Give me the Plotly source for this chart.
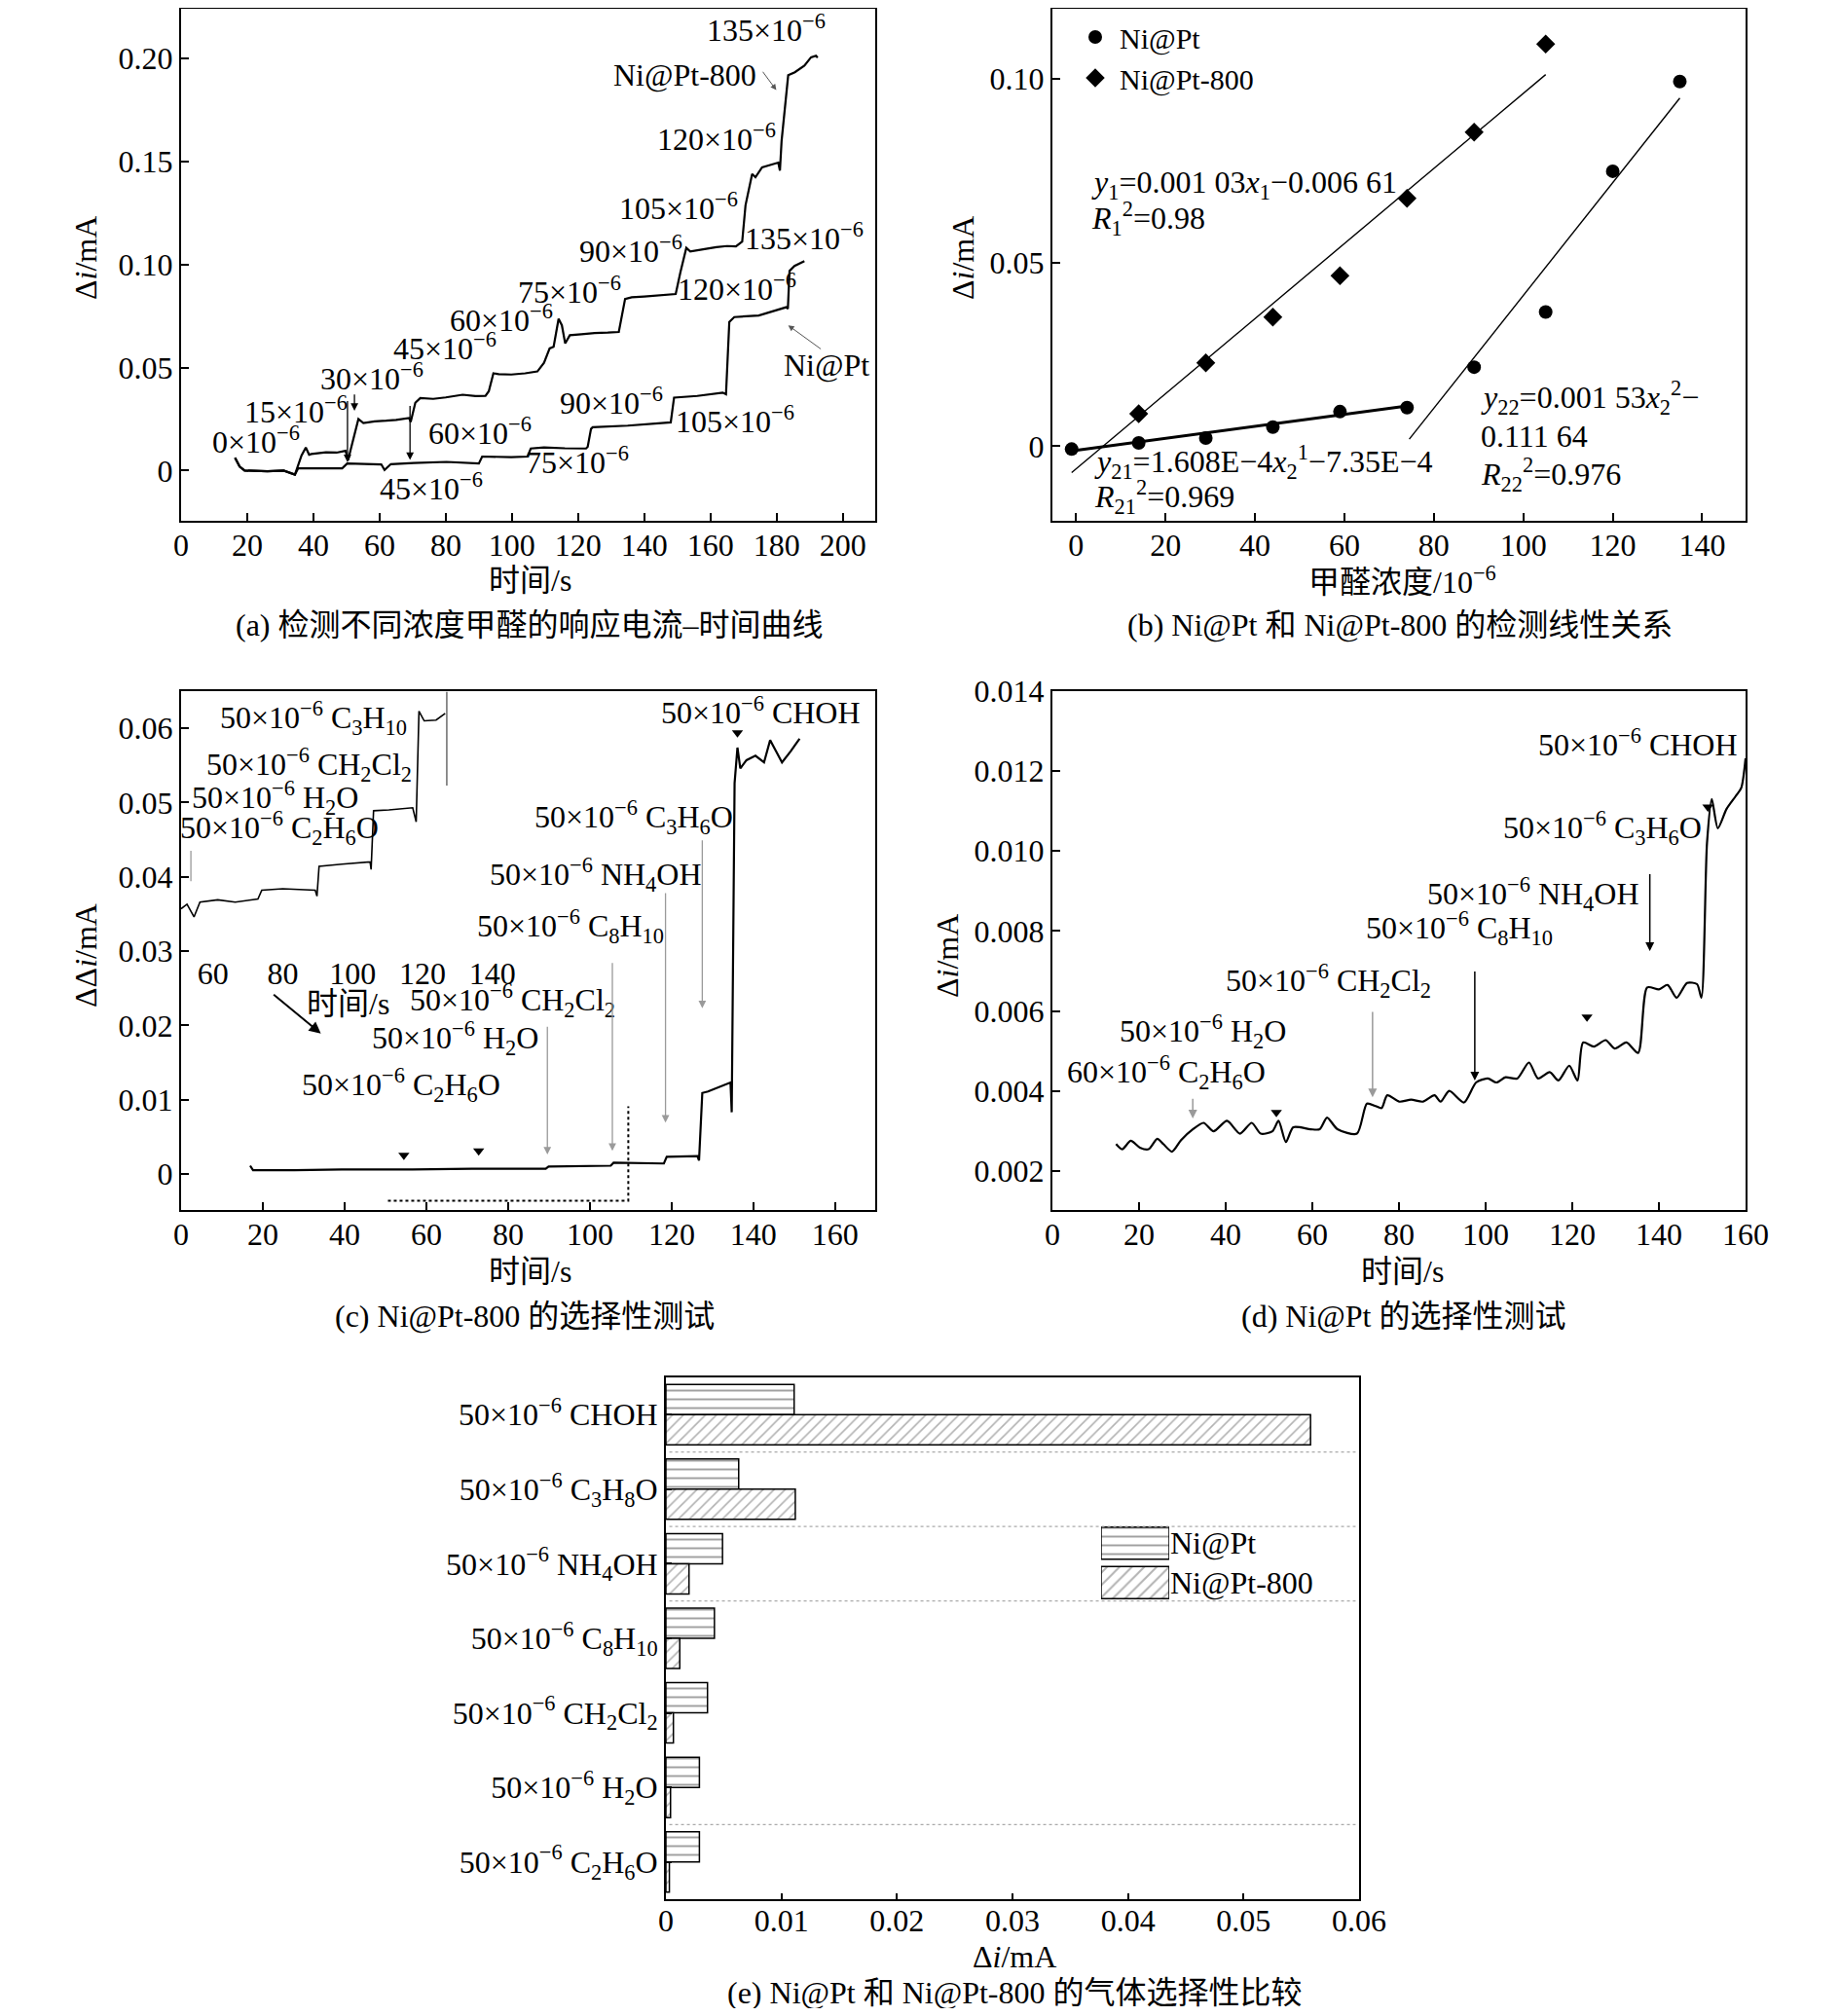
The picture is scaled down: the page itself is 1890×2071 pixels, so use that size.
import plotly.graph_objects as go

W, H = 1890, 2071
OFF = 8  # default body margin of the html page
FW, FH = W - 2 * OFF, H - 2 * OFF
SERIF = "Liberation Serif, 'Noto Sans CJK SC', serif"
FS = 32
SUP = "10<sup>−6</sup>"


def px(x):
    return min(1.0, max(0.0, (x - OFF) / FW))


def py(y):
    return min(1.0, max(0.0, 1 - (y - OFF) / FH))


# ---------------- (a) response current vs time ----------------
a800_t = [16.3, 17.7, 19.2, 23, 26.1, 31, 34.4, 36.4, 37.7, 38.7, 39.4, 43.8, 47, 49.7, 50.5, 51.2,
          53.6, 55.1, 58.5, 62, 65, 68.9, 69.4, 70.8, 72.3, 76.2, 80, 85.1, 89, 92, 93, 94.4, 96,
          99.8, 104, 107.7, 109.7, 111.4, 112.6, 114.1, 115.1, 116.1, 117.5, 121, 125, 129, 132.3,
          134.2, 136.2, 140, 145, 149.5, 150.9, 152.7, 153.9, 158, 161.8, 165, 167.7, 169.6, 170.6,
          172.6, 173.6, 175.6, 178, 180.5, 181, 181.5, 183.5, 185.5, 188.4, 190.4, 191.9, 192.4]
a800_v = [0.0062, 0.0019, 0.0, -0.0003, -0.0004, 0.0, -0.002, 0.0073, 0.0112, 0.0077, 0.008, 0.0089,
          0.0087, 0.0096, 0.005, 0.0098, 0.025, 0.0231, 0.0239, 0.0242, 0.0246, 0.0255, 0.0236,
          0.0329, 0.0352, 0.0348, 0.0355, 0.0368, 0.0362, 0.0363, 0.0385, 0.0472, 0.0468, 0.0466,
          0.0472, 0.0481, 0.0523, 0.0593, 0.0601, 0.0737, 0.0705, 0.0617, 0.0657, 0.0662, 0.0668,
          0.067, 0.0673, 0.0833, 0.0841, 0.0845, 0.085, 0.0857, 0.0961, 0.1081, 0.1064, 0.1075,
          0.1085, 0.109, 0.1088, 0.1112, 0.1288, 0.144, 0.1424, 0.1472, 0.1485, 0.1495, 0.1456,
          0.16, 0.1919, 0.1934, 0.1966, 0.2006, 0.2014, 0.2005]
apt_t = [16.3, 17.7, 19.2, 23, 26.1, 31, 34.4, 35.4, 36.9, 42.8, 48.7, 50.2, 56.6, 60.5, 61.5, 63.4,
         70.3, 80.2, 90, 91, 99.8, 104.7, 105.7, 109.7, 116, 122.4, 122.9, 123.9, 124.4, 135, 148,
         149, 156, 163.7, 164.7, 165.7, 167.2, 174.6, 182.9, 183.4, 183.9, 185.4, 188.4]
apt_v = [0.0062, 0.0019, 0.0, -0.0003, -0.0004, 0.0, -0.002, 0.0011, 0.0011, 0.001, 0.0011, 0.0034,
         0.0031, 0.003, 0.0003, 0.0031, 0.0037, 0.0042, 0.0034, 0.0068, 0.0065, 0.0068, 0.0107,
         0.0112, 0.0108, 0.0107, 0.0115, 0.0202, 0.021, 0.0218, 0.0234, 0.0354, 0.0362, 0.0378,
         0.037, 0.0721, 0.0745, 0.0753, 0.0793, 0.0785, 0.0969, 0.0993, 0.1017]
a_xticks = [0, 20, 40, 60, 80, 100, 120, 140, 160, 180, 200]
a_yticks = [0, 0.05, 0.10, 0.15, 0.20]
a_ytext = ["0", "0.05", "0.10", "0.15", "0.20"]
a_labels = ["135×" + SUP, "Ni@Pt-800", "120×" + SUP, "105×" + SUP, "135×" + SUP, "90×" + SUP,
            "120×" + SUP, "75×" + SUP, "60×" + SUP, "45×" + SUP, "Ni@Pt", "30×" + SUP, "15×" + SUP,
            "0×" + SUP, "60×" + SUP, "90×" + SUP, "105×" + SUP, "75×" + SUP, "45×" + SUP]
a_lab_t = [176.8, 152.2, 161.7, 150.4, 188.4, 135.8, 167.9, 117.5, 96.8, 79.7, 195, 57.8, 34.6,
           22.6, 90.4, 130, 167.4, 119.8, 75.6]
a_lab_v = [0.2148, 0.1921, 0.1616, 0.1281, 0.1134, 0.1075, 0.0888, 0.0878, 0.074, 0.0602, 0.0514,
           0.0455, 0.0297, 0.015, 0.0189, 0.0337, 0.0248, 0.0051, -0.0077]
a_arrow_t = [50.3, 52.4, 69.2]
a_arrow_top = [0.0345, 0.0376, 0.0321]
a_arrow_tip = [0.004, 0.029, 0.0051]

# ---------------- (b) linear relation ----------------
b_pt_c = [-1, 14, 29, 44, 59, 74, 89, 105, 120, 135]
b_pt_v = [-0.0008, 0.0009, 0.0022, 0.0052, 0.0094, 0.0105, 0.0215, 0.0365, 0.0748, 0.0992]
b_800_c = [14, 29, 44, 59, 74, 89, 105]
b_800_v = [0.0088, 0.0227, 0.0351, 0.0464, 0.0674, 0.0854, 0.1094]
fit1_c, fit1_v = [-1, 105], [-0.0072, 0.1011]
fit21_c, fit21_v = [-1, 74.5], [-0.0013, 0.011]
fit22_c, fit22_v = [74.5, 135], [0.0019, 0.0947]
b_xticks = [0, 20, 40, 60, 80, 100, 120, 140]
b_yticks = [0, 0.05, 0.10]
b_ytext = ["0", "0.05", "0.10"]
b_eqs = ["<i>y</i><sub>1</sub>=0.001 03<i>x</i><sub>1</sub>−0.006 61",
         "<i>R</i><sub>1</sub><sup>2</sup>=0.98",
         "<i>y</i><sub>21</sub>=1.608E−4<i>x</i><sub>2</sub><sup>1</sup>−7.35E−4",
         "<i>R</i><sub>21</sub><sup>2</sup>=0.969",
         "<i>y</i><sub>22</sub>=0.001 53<i>x</i><sub>2</sub><sup>2</sup>−",
         "0.111 64",
         "<i>R</i><sub>22</sub><sup>2</sup>=0.976"]
b_eq_c = [3.0, 3.0, 3.7, 3.7, 90.1, 90.1, 90.1]
b_eq_v = [0.0713, 0.0619, -0.0044, -0.0138, 0.0133, 0.0028, -0.0077]

# ---------------- (c) Ni@Pt-800 selectivity ----------------
c_t = [16.9, 17.6, 27.7, 39.3, 56.6, 71.1, 89.2, 89.9, 105.1, 105.8, 118.1, 118.8, 126.3, 126.7,
       127.5, 128.9, 134.4, 134.7, 135.4, 136.1, 136.8, 138.3, 140.5, 142.6, 144.1, 145.1, 147,
       149.1, 151.3]
c_v = [0.0011, 0.0005, 0.0005, 0.0006, 0.0006, 0.0007, 0.0007, 0.001, 0.0011, 0.0015, 0.0014,
       0.0023, 0.0024, 0.0018, 0.0109, 0.0111, 0.0123, 0.0083, 0.0526, 0.0574, 0.0546, 0.0557,
       0.0563, 0.0554, 0.0584, 0.0574, 0.0554, 0.0569, 0.0586]
# inset (zoomed) curve, inset time axis
ci_t = [50.9, 52.6, 54.6, 56.3, 61.4, 66.4, 72.9, 74.0, 80, 89.3, 89.8, 90.4, 96.9, 105, 105.3,
        106, 110.4, 117.2, 118.2, 119, 120.5, 123.9, 126.5]
ci_v = [0.0357, 0.0363, 0.0346, 0.0366, 0.0369, 0.0366, 0.037, 0.0382, 0.0384, 0.0382, 0.0374,
        0.0414, 0.0417, 0.042, 0.041, 0.0489, 0.049, 0.0493, 0.0474, 0.0623, 0.061, 0.0611, 0.062]
ci_xticks = [60, 80, 100, 120, 140]
c_dot_t = [50.6, 109.4, 109.4]
c_dot_v = [-0.0036, -0.0036, 0.0091]
c_xticks = [0, 20, 40, 60, 80, 100, 120, 140, 160]
c_yticks = [0, 0.01, 0.02, 0.03, 0.04, 0.05, 0.06]
c_ytext = ["0", "0.01", "0.02", "0.03", "0.04", "0.05", "0.06"]
c_arrow_t = [89.6, 105.5, 118.5, 127.5]
c_arrow_top = [0.020, 0.0286, 0.038, 0.0451]
c_arrow_tip = [0.0026, 0.0031, 0.0069, 0.0223]
c_tri_t = [54.5, 72.8, 136.1]
c_tri_v = [0.0025, 0.0031, 0.0594]
c_labels = ["50×" + SUP + " C<sub>3</sub>H<sub>10</sub>", "50×" + SUP + " CH<sub>2</sub>Cl<sub>2</sub>",
            "50×" + SUP + " H<sub>2</sub>O", "50×" + SUP + " C<sub>2</sub>H<sub>6</sub>O",
            "50×" + SUP + " CHOH", "50×" + SUP + " C<sub>3</sub>H<sub>6</sub>O",
            "50×" + SUP + " NH<sub>4</sub>OH", "50×" + SUP + " C<sub>8</sub>H<sub>10</sub>",
            "50×" + SUP + " CH<sub>2</sub>Cl<sub>2</sub>", "50×" + SUP + " H<sub>2</sub>O",
            "50×" + SUP + " C<sub>2</sub>H<sub>6</sub>O", "时间/s"]
c_lab_t = [32.4, 31.4, 23.0, 24.1, 141.9, 110.8, 101.4, 95.2, 81.2, 67.0, 53.8, 40.8]
c_lab_v = [0.0614, 0.0551, 0.0506, 0.0466, 0.0624, 0.048, 0.0403, 0.0334, 0.0234, 0.0183, 0.012,
           0.0229]

# ---------------- (d) Ni@Pt selectivity ----------------
d_t = [14.7, 16.1, 18.1, 20.2, 22.2, 24.2, 25.6, 27.6, 29.7, 32.4, 34.9, 37.2, 40.3, 43.3, 46,
       48.1, 50.8, 52.2, 53.9, 55.6, 59.6, 61.7, 63.4, 65.8, 70.3, 72.6, 74.6, 76, 77.3, 80.1,
       82.8, 85.5, 88.2, 89.6, 91.6, 95, 97.8, 100.5, 102.5, 104.6, 107.3, 110, 112.1, 114.8,
       116.8, 119.3, 121.2, 122.5, 125, 127.7, 129.8, 132.5, 135.2, 137.3, 140, 142, 144.1, 146.5,
       148.8, 149.8, 151.1, 152.2, 153.6, 155.6, 157.7, 159, 160]
d_v = [0.00267, 0.00254, 0.00275, 0.00258, 0.00254, 0.0028, 0.00267, 0.00248, 0.00277, 0.00304,
       0.0032, 0.00299, 0.00325, 0.00293, 0.0032, 0.00293, 0.00299, 0.00325, 0.00272, 0.00309,
       0.00304, 0.00304, 0.00333, 0.00304, 0.00293, 0.00368, 0.00362, 0.00357, 0.00389, 0.00373,
       0.00378, 0.00373, 0.00389, 0.00373, 0.004, 0.00371, 0.00421, 0.00431, 0.00421, 0.00434,
       0.00431, 0.00471, 0.00431, 0.00447, 0.00426, 0.00463, 0.00426, 0.00521, 0.00511, 0.00527,
       0.00506, 0.00521, 0.00495, 0.00659, 0.00654, 0.00665, 0.00633, 0.0067, 0.00667, 0.00633,
       0.0102, 0.0113, 0.01057, 0.01105, 0.01137, 0.01158, 0.01232]
d_xticks = [0, 20, 40, 60, 80, 100, 120, 140, 160]
d_yticks = [0.002, 0.004, 0.006, 0.008, 0.010, 0.012, 0.014]
d_ytext = ["0.002", "0.004", "0.006", "0.008", "0.010", "0.012", "0.014"]
d_arrow_t = [32.4, 73.9, 97.5, 137.9]
d_arrow_top = [0.00384, 0.00601, 0.00702, 0.00946]
d_arrow_tip = [0.00331, 0.00384, 0.00426, 0.0075]
d_arrow_col = ["#9a9a9a", "#9a9a9a", "black", "black"]
d_tri_t = [51.7, 123.4, 151.3]
d_tri_v = [0.00346, 0.00585, 0.0111]
d_labels = ["50×" + SUP + " CHOH", "50×" + SUP + " C<sub>3</sub>H<sub>6</sub>O",
            "50×" + SUP + " NH<sub>4</sub>OH", "50×" + SUP + " C<sub>8</sub>H<sub>10</sub>",
            "50×" + SUP + " CH<sub>2</sub>Cl<sub>2</sub>", "50×" + SUP + " H<sub>2</sub>O",
            "60×" + SUP + " C<sub>2</sub>H<sub>6</sub>O"]
d_lab_t = [135.2, 127.0, 111.0, 94.0, 63.7, 34.7, 26.4]
d_lab_v = [0.0127, 0.01057, 0.00893, 0.00808, 0.00675, 0.00548, 0.00447]

# ---------------- (e) gas selectivity comparison ----------------
e_gases = ["50×" + SUP + " CHOH", "50×" + SUP + " C<sub>3</sub>H<sub>8</sub>O",
           "50×" + SUP + " NH<sub>4</sub>OH", "50×" + SUP + " C<sub>8</sub>H<sub>10</sub>",
           "50×" + SUP + " CH<sub>2</sub>Cl<sub>2</sub>", "50×" + SUP + " H<sub>2</sub>O",
           "50×" + SUP + " C<sub>2</sub>H<sub>6</sub>O"]
e_pt = [0.0111, 0.0063, 0.0049, 0.0042, 0.0036, 0.0029, 0.0029]
e_800 = [0.0558, 0.0112, 0.0020, 0.0012, 0.00065, 0.0004, 0.0003]
e_xticks = [0, 0.01, 0.02, 0.03, 0.04, 0.05, 0.06]
e_xtext = ["0", "0.01", "0.02", "0.03", "0.04", "0.05", "0.06"]
e_sep = [0.5, 1.5, 2.5, 5.5]
e_series = ["Ni@Pt", "Ni@Pt-800"]
e_swatch = [1, 1]

PAT_PT = dict(shape="-", fgcolor="#444", bgcolor="white", size=9, solidity=0.22)
PAT_800 = dict(shape="/", fgcolor="#666", bgcolor="white", size=8, solidity=0.2)

fig = go.Figure()
line = dict(color="black", width=2.2)

# (a)
fig.add_trace(go.Scatter(x=a800_t, y=a800_v, mode="lines", line=line, xaxis="x", yaxis="y", showlegend=False))
fig.add_trace(go.Scatter(x=apt_t, y=apt_v, mode="lines", line=line, xaxis="x", yaxis="y", showlegend=False))

# (b)
for fc, fv, wd in [(fit1_c, fit1_v, 1.4), (fit21_c, fit21_v, 3), (fit22_c, fit22_v, 1.4)]:
    fig.add_trace(go.Scatter(x=fc, y=fv, mode="lines", line=dict(color="black", width=wd),
                             xaxis="x2", yaxis="y2", showlegend=False))
fig.add_trace(go.Scatter(x=b_pt_c, y=b_pt_v, mode="markers", name="Ni@Pt",
                         marker=dict(symbol="circle", size=14, color="black"),
                         xaxis="x2", yaxis="y2"))
fig.add_trace(go.Scatter(x=b_800_c, y=b_800_v, mode="markers", name="Ni@Pt-800",
                         marker=dict(symbol="diamond", size=15, color="black"),
                         xaxis="x2", yaxis="y2"))

# (c)
fig.add_trace(go.Scatter(x=c_t, y=c_v, mode="lines", line=line, xaxis="x3", yaxis="y3", showlegend=False))
fig.add_trace(go.Scatter(x=ci_t, y=ci_v, mode="lines", line=dict(color="black", width=1.6),
                         xaxis="x6", yaxis="y3", showlegend=False))
fig.add_trace(go.Scatter(x=c_dot_t, y=c_dot_v, mode="lines", line=dict(color="black", width=2, dash="dot"),
                         xaxis="x3", yaxis="y3", showlegend=False))
fig.add_trace(go.Scatter(x=c_tri_t, y=c_tri_v, mode="markers",
                         marker=dict(symbol="triangle-down", size=10, color="black"),
                         xaxis="x3", yaxis="y3", showlegend=False))

# (d)
fig.add_trace(go.Scatter(x=d_t, y=d_v, mode="lines",
                         line=dict(color="black", width=2.2, shape="spline", smoothing=0.7),
                         xaxis="x4", yaxis="y4", showlegend=False))
fig.add_trace(go.Scatter(x=d_tri_t, y=d_tri_v, mode="markers",
                         marker=dict(symbol="triangle-down", size=10, color="black"),
                         xaxis="x4", yaxis="y4", showlegend=False))

# (e)
fig.add_trace(go.Bar(y=e_gases, x=e_pt, orientation="h", name="Ni@Pt", xaxis="x5", yaxis="y5",
                     showlegend=False,
                     marker=dict(color="white", line=dict(color="black", width=1.5), pattern=PAT_PT)))
fig.add_trace(go.Bar(y=e_gases, x=e_800, orientation="h", name="Ni@Pt-800", xaxis="x5", yaxis="y5",
                     showlegend=False,
                     marker=dict(color="white", line=dict(color="black", width=1.5), pattern=PAT_800)))
# legend of (e): large hatched swatches on a small hidden axis
fig.add_trace(go.Bar(y=e_series, x=e_swatch, orientation="h", xaxis="x7", yaxis="y7", showlegend=False,
                     hoverinfo="skip",
                     marker=dict(color="white", line=dict(color="black", width=1.5),
                                 pattern=dict(shape=["-", "/"], fgcolor=["#444", "#666"], bgcolor="white",
                                              size=9, solidity=0.22))))

tick_font = dict(family=SERIF, size=FS, color="black")


def axis(dom, rng, **kw):
    d = dict(domain=dom, range=rng, showline=True, linecolor="black", linewidth=2, mirror=True,
             ticks="inside", ticklen=8, tickwidth=1.5, tickcolor="black", showgrid=False,
             zeroline=False, tickfont=tick_font)
    d.update(kw)
    return d


ax_a = [px(186), px(899)]
ax_b = [px(1081), px(1793)]
ay_ab = [py(535), py(9)]
ay_cd = [py(1243), py(710)]

fig.update_layout(
    width=FW, height=FH, margin=dict(l=0, r=0, t=0, b=0, autoexpand=False),
    paper_bgcolor="white", plot_bgcolor="white",
    font=dict(family=SERIF, size=FS, color="black"),
    barmode="group", bargap=0.19, bargroupgap=0,
    xaxis=axis(ax_a, [0, 209.8], anchor="y", tickvals=a_xticks, ticklabelstandoff=-4),
    yaxis=axis(ay_ab, [-0.0244, 0.2242], anchor="x", tickvals=a_yticks, ticktext=a_ytext),
    xaxis2=axis(ax_b, [-5.3, 149.7], anchor="y2", tickvals=b_xticks, ticklabelstandoff=-4),
    yaxis2=axis(ay_ab, [-0.0203, 0.119], anchor="x2", tickvals=b_yticks, ticktext=b_ytext),
    xaxis3=axis(ax_a, [0, 169.8], anchor="y3", tickvals=c_xticks, ticklabelstandoff=-4),
    yaxis3=axis(ay_cd, [-0.00486, 0.065], anchor="x3", tickvals=c_yticks, ticktext=c_ytext),
    xaxis4=axis(ax_b, [0, 160], anchor="y4", tickvals=d_xticks, ticklabelstandoff=-4),
    yaxis4=axis(ay_cd, [0.00102, 0.014], anchor="x4", tickvals=d_yticks, ticktext=d_ytext),
    xaxis5=axis([px(684), px(1396)], [0, 0.06], anchor="y5", tickvals=e_xticks, ticktext=e_xtext,
                ticklen=6, ticklabelstandoff=-7),
    yaxis5=axis([py(1951), py(1415)], [6.5, -0.5], anchor="x5", type="category",
                categoryorder="array", categoryarray=e_gases, ticklen=6),
    xaxis6=dict(overlaying="x3", anchor="free", position=py(978), range=[50.9, 249.6],
                tickvals=ci_xticks, showline=False, ticks="", showgrid=False, zeroline=False,
                tickfont=tick_font),
    xaxis7=dict(domain=[px(1131), px(1201)], range=[0, 1], anchor="y7", visible=False,
                fixedrange=True),
    yaxis7=dict(domain=[py(1646), py(1565)], range=[1.5, -0.5], anchor="x7", type="category",
                categoryorder="array", categoryarray=e_series, side="right", showline=False,
                ticks="", showgrid=False, zeroline=False, tickfont=tick_font, fixedrange=True),
    showlegend=True,
    legend=dict(x=px(1100), y=py(12), xanchor="left", yanchor="top", bgcolor="rgba(0,0,0,0)",
                font=dict(family=SERIF, size=30), itemwidth=40, tracegroupgap=0),
)

# separators in (e)
for s in e_sep:
    fig.add_shape(type="line", xref="x5 domain", yref="y5", x0=0.005, x1=0.995, y0=s, y1=s,
                  line=dict(color="#aaaaaa", width=1.2, dash="dot"))

ann = []


def note(text, x, y, xref, yref, size=FS, **kw):
    d = dict(text=text, x=x, y=y, xref=xref, yref=yref, showarrow=False,
             xanchor="center", yanchor="middle",
             font=dict(family=SERIF, size=size, color="black"))
    d.update(kw)
    return d


def arrow(x0, y0, x1, y1, xr, yr, color="black", width=1.3, head=2):
    return dict(text="", x=x1, y=y1, ax=x0, ay=y0, xref=xr, yref=yr, axref=xr, ayref=yr,
                showarrow=True, arrowhead=head, arrowsize=1.2, arrowwidth=width, arrowcolor=color)


for s, t, v in zip(a_labels, a_lab_t, a_lab_v):
    ann.append(note(s, t, v, "x", "y"))
for t, v0, v1 in zip(a_arrow_t, a_arrow_top, a_arrow_tip):
    ann.append(arrow(t, v0, t, v1, "x", "y"))
ann.append(arrow(175.5, 0.1943, 179.9, 0.1847, "x", "y", color="#555", width=1))
ann.append(arrow(193.8, 0.0585, 183.5, 0.0705, "x", "y", color="#555", width=1))

for s, c, v in zip(b_eqs, b_eq_c, b_eq_v):
    ann.append(note(s, c, v, "x2", "y2", xanchor="left"))

for s, t, v in zip(c_labels, c_lab_t, c_lab_v):
    ann.append(note(s, t, v, "x3", "y3"))
for t, v0, v1 in zip(c_arrow_t, c_arrow_top, c_arrow_tip):
    ann.append(arrow(t, v0, t, v1, "x3", "y3", color="#9a9a9a", width=1.3))
ann.append(arrow(22.3, 0.0243, 34.2, 0.0189, "x3", "y3", width=2))
ann.append(arrow(2.4, 0.0437, 2.4, 0.0394, "x3", "y3", color="#9a9a9a", width=1.3, head=0))
ann.append(arrow(65.0, 0.0651, 65.0, 0.0523, "x3", "y3", color="#555", width=1.3, head=0))

for s, t, v in zip(d_labels, d_lab_t, d_lab_v):
    ann.append(note(s, t, v, "x4", "y4"))
for t, v0, v1, col in zip(d_arrow_t, d_arrow_top, d_arrow_tip, d_arrow_col):
    ann.append(arrow(t, v0, t, v1, "x4", "y4", color=col, width=1.5))

# axis titles and captions
cap = 32
ann += [
    note("时间/s", px(544), py(596), "paper", "paper", cap),
    note("Δ<i>i</i>/mA", px(88), py(265), "paper", "paper", cap, textangle=-90),
    note("甲醛浓度/" + SUP, px(1440), py(596), "paper", "paper", cap),
    note("Δ<i>i</i>/mA", px(989), py(265), "paper", "paper", cap, textangle=-90),
    note("(a) 检测不同浓度甲醛的响应电流–时间曲线", px(544), py(642), "paper", "paper", cap),
    note("(b) Ni@Pt 和 Ni@Pt-800 的检测线性关系", px(1438), py(642), "paper", "paper", cap),
    note("时间/s", px(544), py(1306), "paper", "paper", cap),
    note("ΔΔ<i>i</i>/mA", px(88), py(982), "paper", "paper", cap, textangle=-90),
    note("时间/s", px(1440), py(1306), "paper", "paper", cap),
    note("Δ<i>i</i>/mA", px(973), py(982), "paper", "paper", cap, textangle=-90),
    note("(c) Ni@Pt-800 的选择性测试", px(539), py(1352), "paper", "paper", cap),
    note("(d) Ni@Pt 的选择性测试", px(1441), py(1352), "paper", "paper", cap),
    note("Δ<i>i</i>/mA", px(1042), py(2010), "paper", "paper", cap),
    note("(e) Ni@Pt 和 Ni@Pt-800 的气体选择性比较", px(1042), py(2047), "paper", "paper", cap),
]
fig.update_layout(annotations=ann)

fig.write_html("out.html")
